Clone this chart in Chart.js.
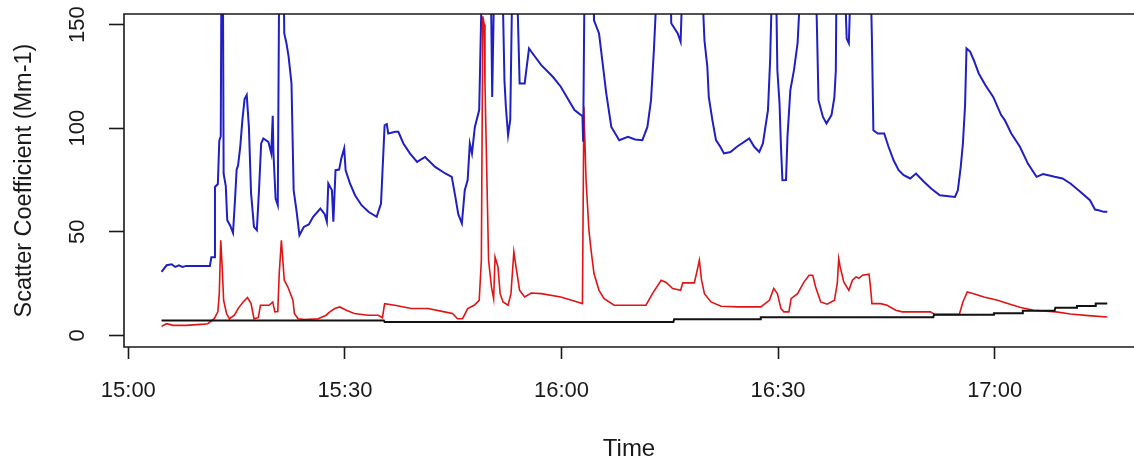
<!DOCTYPE html>
<html>
<head>
<meta charset="utf-8">
<script src="https://cdn.jsdelivr.net/npm/chart.js@4.4.1/dist/chart.umd.min.js"></script>
<style>
  html, body { margin: 0; padding: 0; background: #ffffff; overflow: hidden; }
  #wrap { width: 1134px; height: 464px; position: relative; }
</style>
</head>
<body>
<div id="wrap"><canvas id="chart" width="1134" height="464"></canvas></div>
<script>
// Time is given in minutes after 15:00.
const blueTime = [4.6, 5.3, 6.0, 6.5, 7.0, 7.5, 8.0, 11.3, 11.5, 11.9, 12.0, 12.4, 12.6, 12.8, 12.9, 13.1, 13.2, 13.5, 13.7, 14.1, 14.5, 14.8, 15.0, 15.2, 15.5, 15.8, 16.1, 16.4, 16.7, 17.0, 17.4, 17.8, 18.1, 18.4, 18.7, 19.4, 19.8, 20.0, 20.1, 20.4, 20.7, 20.9, 21.5, 21.6, 21.9, 22.2, 22.6, 22.9, 23.3, 23.7, 24.3, 25.0, 25.6, 26.6, 27.2, 27.5, 27.7, 28.2, 28.4, 28.7, 29.2, 29.5, 29.9, 30.1, 30.7, 31.4, 32.3, 33.3, 34.4, 35.0, 35.5, 35.8, 36.0, 37.0, 37.4, 38.1, 39.0, 40.0, 41.1, 42.5, 43.9, 44.8, 45.3, 45.7, 46.2, 46.6, 47.0, 47.3, 47.6, 48.0, 48.6, 49.0, 50.2, 50.4, 50.7, 51.8, 52.1, 52.3, 52.6, 52.9, 53.2, 53.8, 54.2, 54.9, 55.5, 55.8, 57.2, 58.8, 59.9, 61.8, 62.7, 62.9, 63.0, 63.2, 64.4, 64.5, 65.2, 66.2, 66.9, 68.0, 69.2, 70.2, 71.2, 71.9, 72.4, 72.8, 73.3, 75.1, 75.2, 76.1, 76.5, 76.8, 79.4, 79.8, 80.2, 80.4, 80.9, 81.4, 82.0, 82.5, 83.4, 84.3, 86.0, 86.7, 87.4, 87.9, 88.6, 88.9, 89.2, 89.7, 89.9, 90.2, 90.4, 90.6, 91.1, 91.3, 91.7, 92.2, 92.7, 93.2, 95.2, 95.4, 95.6, 96.2, 96.7, 97.4, 97.8, 98.0, 98.1, 99.2, 99.5, 99.8, 100.1, 102.8, 103.0, 103.2, 103.8, 104.7, 105.3, 106.0, 106.7, 107.4, 108.3, 109.1, 110.2, 111.2, 112.4, 114.5, 114.9, 115.3, 115.6, 115.9, 116.1, 116.6, 117.1, 117.8, 118.7, 119.8, 120.9, 121.4, 122.3, 123.5, 124.6, 125.8, 126.7, 128.3, 129.4, 130.5, 131.9, 133.2, 133.9, 134.4, 135.1, 135.6];
const blueValue = [30.6, 33.8, 34.3, 33.0, 33.8, 33.0, 33.5, 33.5, 37.7, 37.7, 71.6, 73.0, 94.0, 96.0, 175, 175, 78.0, 72.0, 55.5, 53.0, 49.4, 66.8, 80.0, 82.0, 91.0, 104.0, 114.0, 116.0, 100.6, 68.6, 52.3, 50.7, 70.0, 92.6, 95.0, 93.4, 87.8, 106.0, 88.0, 66.0, 62.8, 175, 175, 145.7, 141.0, 134.5, 121.6, 70.0, 60.0, 48.3, 52.3, 53.5, 57.2, 61.2, 58.5, 54.8, 73.3, 70.0, 54.8, 79.7, 80.0, 85.3, 90.2, 79.7, 73.3, 67.6, 62.8, 59.5, 57.2, 63.6, 101.4, 102.0, 97.4, 98.2, 98.2, 92.6, 87.8, 83.7, 86.1, 81.3, 78.1, 76.5, 66.8, 58.5, 54.0, 70.0, 74.9, 92.6, 87.8, 100.6, 108.7, 175, 175, 115.0, 175, 175, 123.0, 110.0, 96.6, 104.0, 175, 175, 121.6, 121.6, 138.5, 137.0, 130.4, 124.8, 120.0, 108.7, 106.3, 106.0, 93.4, 175, 175, 152.0, 145.7, 116.8, 100.6, 94.2, 95.8, 94.5, 94.2, 100.6, 113.5, 137.7, 175, 175, 150.6, 145.7, 141.7, 175, 175, 142.5, 129.6, 115.1, 103.9, 94.2, 91.0, 87.8, 88.5, 91.0, 95.0, 91.0, 88.5, 92.6, 108.7, 132.9, 175, 175, 128.0, 112.0, 91.0, 74.9, 75.0, 95.8, 118.4, 128.0, 141.0, 175, 175, 146.0, 113.5, 105.5, 102.3, 106.3, 115.0, 128.0, 175, 175, 143.3, 141.0, 175, 175, 142.5, 99.0, 97.4, 97.4, 91.0, 84.5, 79.7, 77.3, 75.7, 78.1, 74.1, 70.9, 67.6, 66.8, 70.0, 81.3, 92.6, 111.0, 138.5, 137.0, 132.9, 126.4, 120.8, 115.1, 106.3, 103.9, 97.4, 91.0, 82.9, 76.5, 77.8, 76.5, 75.7, 73.3, 69.2, 65.2, 60.7, 60.4, 59.6, 59.6];

const redTime = [4.6, 5.3, 6.2, 8.0, 10.5, 11.0, 11.9, 12.4, 12.6, 12.8, 13.0, 13.2, 13.6, 14.0, 14.7, 15.2, 15.9, 16.5, 17.0, 17.4, 18.0, 18.3, 19.5, 20.0, 20.3, 20.7, 20.9, 21.2, 21.4, 21.6, 22.1, 22.8, 23.0, 23.5, 24.4, 26.3, 27.4, 27.9, 28.6, 29.3, 30.2, 31.3, 33.2, 34.6, 35.2, 35.5, 36.9, 39.2, 41.5, 43.8, 44.9, 45.6, 46.3, 47.0, 47.9, 48.6, 48.9, 49.1, 49.3, 49.4, 49.7, 49.9, 50.3, 50.6, 50.8, 51.2, 51.5, 51.9, 52.6, 53.0, 53.4, 53.7, 54.2, 54.9, 55.8, 57.2, 59.9, 62.2, 62.9, 63.1, 63.4, 63.8, 64.1, 64.5, 65.2, 65.9, 67.3, 69.2, 71.7, 72.6, 73.8, 74.5, 75.4, 76.5, 76.8, 78.4, 78.9, 79.1, 79.4, 79.8, 80.7, 82.1, 84.4, 87.6, 88.8, 89.4, 89.9, 90.4, 90.8, 91.5, 91.8, 92.7, 93.6, 94.3, 94.8, 95.2, 95.9, 96.8, 97.8, 98.2, 98.4, 98.6, 99.1, 99.8, 100.3, 100.8, 101.2, 101.7, 102.6, 102.8, 103.0, 104.2, 105.1, 106.3, 107.2, 111.1, 111.7, 115.1, 115.6, 116.2, 117.1, 118.5, 120.4, 121.8, 123.6, 125.4, 128.5, 130.5, 133.0, 135.6];
const redValue = [4.3, 5.6, 4.8, 4.8, 5.4, 5.6, 8.0, 11.3, 20.1, 45.9, 33.0, 16.9, 10.5, 8.0, 9.7, 12.9, 16.1, 18.2, 15.3, 8.0, 8.5, 14.5, 14.5, 16.1, 11.3, 11.5, 29.8, 45.9, 36.2, 26.6, 23.3, 16.9, 10.5, 8.0, 7.6, 8.0, 9.7, 11.3, 12.9, 13.7, 12.1, 10.5, 9.7, 9.7, 8.5, 15.3, 14.5, 12.9, 12.9, 11.3, 10.5, 8.0, 8.0, 12.9, 14.5, 16.9, 36.2, 154.0, 150.0, 121.6, 70.0, 36.2, 23.3, 17.7, 37.8, 33.0, 20.1, 16.1, 14.5, 20.1, 40.3, 33.0, 21.7, 18.5, 20.4, 20.1, 18.5, 16.1, 15.3, 110.3, 74.9, 50.7, 41.0, 29.8, 21.7, 17.7, 14.5, 14.5, 14.5, 20.1, 26.6, 25.5, 22.6, 21.7, 25.3, 25.3, 33.0, 36.2, 26.6, 20.1, 16.1, 14.0, 13.7, 13.7, 16.9, 22.6, 20.1, 12.9, 11.3, 11.3, 17.7, 20.1, 25.8, 29.0, 29.0, 23.3, 16.1, 15.0, 16.9, 25.0, 37.0, 33.0, 25.8, 21.7, 26.6, 28.2, 27.5, 29.0, 29.5, 23.3, 15.3, 15.3, 14.5, 12.1, 11.3, 11.3, 10.1, 10.1, 16.1, 20.9, 20.1, 18.5, 16.9, 15.3, 13.4, 12.1, 11.3, 10.3, 9.5, 8.8];

const blackTime = [4.6, 35.4, 35.5, 75.5, 75.6, 87.5, 87.6, 111.5, 111.6, 119.8, 119.9, 123.8, 123.9, 128.3, 128.4, 131.3, 131.4, 133.9, 134.0, 135.6];
const blackValue = [7.2, 7.2, 6.4, 6.4, 7.8, 7.8, 8.7, 8.7, 9.9, 9.9, 10.6, 10.6, 11.8, 11.8, 13.3, 13.3, 14.2, 14.2, 15.3, 15.3];

const xTickMinutes = [0, 30, 60, 90, 120];
const yTickValues = [0, 50, 100, 150];
const xTitle = 'Time';
const yTitle = 'Scatter Coefficient (Mm-1)';

const pairs = (ts, vs) => ts.map((t, i) => ({ x: t, y: vs[i] }));
const clockLabel = (m) => {
  const h = 15 + Math.floor(m / 60);
  const mm = Math.round(m % 60);
  return h + ':' + (mm < 10 ? '0' + mm : mm);
};

const FONT = "'Liberation Sans', Arial, Helvetica, sans-serif";
const INK = '#1a1a1a';

// plot frame drawn like a base-graphics box
const framePlugin = {
  id: 'frame',
  afterDatasetsDraw(chart) {
    const { ctx, chartArea: a } = chart;
    ctx.save();
    ctx.strokeStyle = INK;
    ctx.lineWidth = 1.6;
    ctx.beginPath();
    ctx.rect(a.left, a.top, a.right - a.left + 20, a.bottom - a.top);
    ctx.stroke();
    ctx.restore();
  }
};

new Chart(document.getElementById('chart'), {
  type: 'line',
  data: {
    datasets: [
      { data: pairs(blackTime, blackValue), borderColor: '#111111', borderWidth: 2, pointRadius: 0, tension: 0 },
      { data: pairs(blueTime, blueValue), borderColor: '#1f1fc4', borderWidth: 2, pointRadius: 0, tension: 0 },
      { data: pairs(redTime, redValue), borderColor: '#e01414', borderWidth: 1.6, pointRadius: 0, tension: 0 }
    ]
  },
  options: {
    responsive: false,
    animation: false,
    events: [],
    layout: { padding: { top: 14, right: 0, left: 0, bottom: 0 } },
    plugins: { legend: { display: false }, tooltip: { enabled: false } },
    scales: {
      x: {
        type: 'linear',
        min: -0.6,
        max: 139.3,
        afterFit: (s) => { s.height = 117; s.paddingLeft = 0; s.paddingRight = 0; },
        afterBuildTicks: (s) => { s.ticks = xTickMinutes.map(v => ({ value: v })); },
        ticks: {
          callback: (v) => clockLabel(v),
          color: INK,
          font: { family: FONT, size: 22 },
          padding: 19,
          maxRotation: 0,
          autoSkip: false
        },
        grid: { drawOnChartArea: false, drawTicks: true, tickLength: 12, tickWidth: 1.6, tickColor: INK },
        border: { display: false },
        title: { display: true, text: xTitle, color: INK, font: { family: FONT, size: 24 }, padding: { top: 0, bottom: 0 } }
      },
      y: {
        min: -5.65,
        max: 155.1,
        afterFit: (s) => { s.width = 124; s.paddingTop = 0; s.paddingBottom = 0; },
        afterBuildTicks: (s) => { s.ticks = yTickValues.map(v => ({ value: v })); },
        ticks: {
          color: INK,
          font: { family: FONT, size: 22 },
          minRotation: 90,
          maxRotation: 90,
          crossAlign: 'center',
          padding: 13
        },
        grid: { drawOnChartArea: false, drawTicks: true, tickLength: 15, tickWidth: 1.6, tickColor: INK },
        border: { display: false },
        title: { display: true, text: yTitle, color: INK, font: { family: FONT, size: 23.5 }, padding: { top: 10, bottom: 0 } }
      }
    }
  },
  plugins: [framePlugin]
});
</script>
</body>
</html>
